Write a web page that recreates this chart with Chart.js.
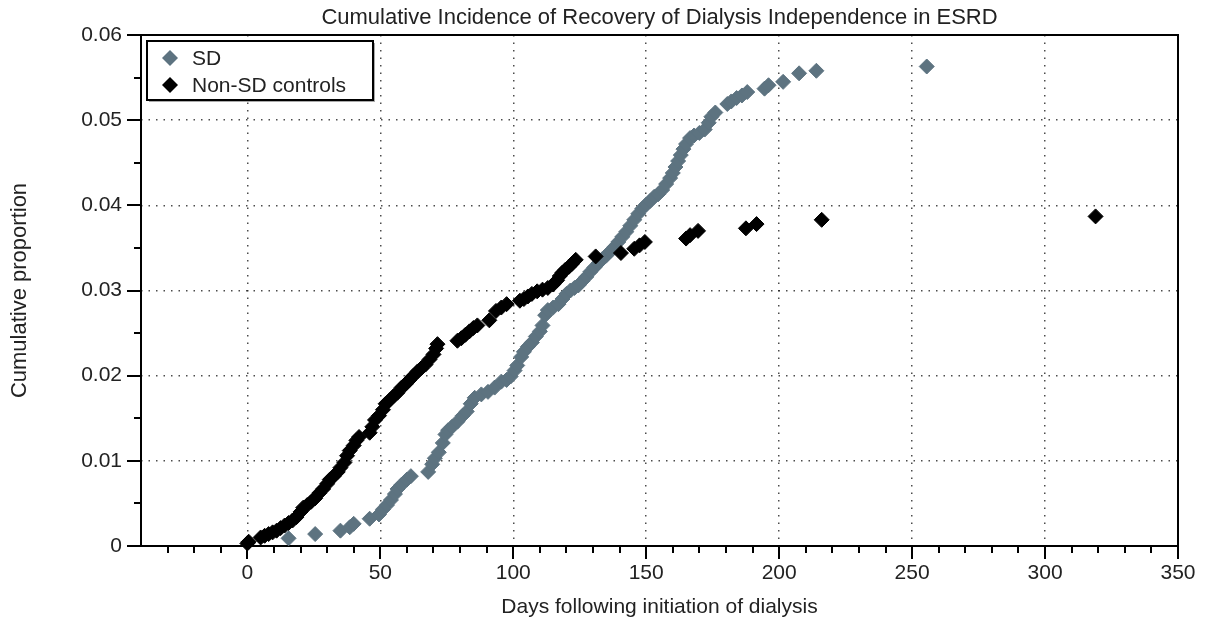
<!DOCTYPE html>
<html>
<head>
<meta charset="utf-8">
<title>Cumulative Incidence of Recovery of Dialysis Independence in ESRD</title>
<script src="https://cdn.jsdelivr.net/npm/chart.js@4.4.1/dist/chart.umd.min.js"></script>
<style>
  html, body { margin: 0; padding: 0; background: #fff; }
  #grafico { display: block; }
</style>
</head>
<body>
<canvas id="grafico" width="1205" height="624"></canvas>
<script>
// Datos
const chartTitle = 'Cumulative Incidence of Recovery of Dialysis Independence in ESRD';
const seriesLabels = ['SD', 'Non-SD controls'];

const sdDays = [15.5, 25.5, 35, 38.5, 40, 46, 49.5, 51, 52.5, 54, 55.5, 56.5, 58, 60, 61.5,
  68, 69.5, 70.5, 72, 73.5, 74.5, 75.5, 77, 79, 81, 82.5, 84, 85.5, 88, 90.5, 93, 95.5, 97.5, 99,
  100.5, 101.5, 103, 104, 105.5, 107, 108.5, 110, 111, 112, 113, 115, 117, 118.5, 120, 121.5,
  123, 124.5, 126, 127.5, 129, 130.5, 132, 133.5, 135, 136.5, 138, 139.5, 141, 142.5, 144,
  145.5, 147, 148.5, 150, 151.5, 153, 154.5, 156, 157.5, 159, 160, 161, 162, 163, 164, 165,
  166.5, 168, 170, 172, 173.5, 174.5, 176, 180.5, 182, 184, 186, 188, 194.5, 196, 201.5,
  207.5, 214, 255.5];
const sdProp = [0.0009, 0.0014, 0.0018, 0.0022, 0.0026, 0.0032, 0.0037, 0.0043, 0.0048, 0.0054,
  0.0061, 0.0067, 0.0072, 0.0078, 0.0082, 0.0087, 0.0096, 0.0103, 0.0110, 0.0121, 0.0131,
  0.0136, 0.0140, 0.0146, 0.0153, 0.0158, 0.0167, 0.0174, 0.0178, 0.0181, 0.0186, 0.0193,
  0.0195, 0.0199, 0.0206, 0.0212, 0.0222, 0.0228, 0.0234, 0.0239, 0.0246, 0.0252, 0.0259,
  0.0271, 0.0277, 0.0280, 0.0284, 0.0290, 0.0296, 0.0300, 0.0303, 0.0306, 0.0311, 0.0316,
  0.0322, 0.0327, 0.0332, 0.0337, 0.0341, 0.0346, 0.0351, 0.0357, 0.0363, 0.0369, 0.0376,
  0.0383, 0.0390, 0.0396, 0.0401, 0.0405, 0.0410, 0.0413, 0.0418, 0.0425, 0.0432, 0.0438,
  0.0445, 0.0452, 0.0459, 0.0466, 0.0472, 0.0479, 0.0482, 0.0485, 0.0489, 0.0497, 0.0504,
  0.0509, 0.0519, 0.0522, 0.0526, 0.0529, 0.0533, 0.0537, 0.0541, 0.0545, 0.0555, 0.0558,
  0.0563];

const ctrlDays = [0, 0.5, 5, 6.5, 8, 9.5, 11, 12.5, 14, 15.5, 17, 18.5, 20, 21, 22.5, 24, 25.5,
  27, 28.5, 30, 31, 32.5, 34, 35, 36.5, 37.5, 38.5, 40, 41, 42, 46, 47, 48, 49.5, 51, 52, 53.5,
  55, 56.5, 58, 59.5, 61, 62.5, 64, 65.5, 67, 68.5, 70, 71, 71.5, 79, 80.5, 82, 83.5, 85, 86.5,
  91, 93.5, 95.5, 97.5, 102.5, 104, 105.5, 107, 109, 111, 113, 115, 116.5, 117.5, 118.5, 119.5,
  121, 122, 123.5, 131, 140.5, 145.5, 147.5, 149.5, 165, 166.5, 169.5, 187.5, 191.5, 216, 319];
const ctrlProp = [0.0003, 0.0005, 0.0010, 0.0012, 0.0014, 0.0016, 0.0018, 0.0021, 0.0024,
  0.0027, 0.0030, 0.0034, 0.0040, 0.0045, 0.0048, 0.0052, 0.0056, 0.0062, 0.0067, 0.0073,
  0.0078, 0.0082, 0.0087, 0.0092, 0.0098, 0.0106, 0.0112, 0.0118, 0.0124, 0.0128, 0.0133,
  0.0140, 0.0148, 0.0153, 0.0160, 0.0167, 0.0171, 0.0176, 0.0180, 0.0186, 0.0190, 0.0195,
  0.0200, 0.0205, 0.0209, 0.0213, 0.0219, 0.0225, 0.0232, 0.0237, 0.0241, 0.0244, 0.0248,
  0.0252, 0.0256, 0.0259, 0.0265, 0.0276, 0.0280, 0.0284, 0.0288, 0.0290, 0.0293, 0.0296,
  0.0299, 0.0301, 0.0303, 0.0307, 0.0312, 0.0317, 0.0321, 0.0324, 0.0328, 0.0331, 0.0336,
  0.0340, 0.0344, 0.0349, 0.0353, 0.0357, 0.0361, 0.0365, 0.0370, 0.0373, 0.0378, 0.0383,
  0.0387];

const xTicks = [0, 50, 100, 150, 200, 250, 300, 350];
const yTicks = [0, 0.01, 0.02, 0.03, 0.04, 0.05, 0.06];

const FUENTE = "'Liberation Sans', Arial, Helvetica, sans-serif";
const TEXTO = '#222';
const COLOR_SD = '#5d7380';
const COLOR_CTRL = '#000';
const PUNTOS = 'rgba(0,0,0,0.7)';

const aPuntos = (xs, ys) => xs.map((x, i) => ({ x: x, y: ys[i] }));

// Marco con marcas mayores y menores hacia afuera
const marcoPlugin = {
    id: 'marco',
    beforeDatasetsDraw(chart) {
        const { ctx, chartArea: a, scales: { x, y } } = chart;
        ctx.save();
        ctx.strokeStyle = '#000';
        ctx.lineWidth = 2;
        ctx.strokeRect(a.left, a.top, a.right - a.left, a.bottom - a.top);
        ctx.beginPath();
        for (let d = -30; d <= 350; d += 10) {
            const px = Math.round(x.getPixelForValue(d));
            const largo = d % 50 === 0 ? 13 : 7;
            ctx.moveTo(px, a.bottom);
            ctx.lineTo(px, a.bottom + largo);
        }
        for (let k = 0; k <= 12; k++) {
            const py = Math.round(y.getPixelForValue(k * 0.005));
            const largo = k % 2 === 0 ? 14 : 7;
            ctx.moveTo(a.left, py);
            ctx.lineTo(a.left - largo, py);
        }
        ctx.stroke();
        ctx.restore();
    },
    // titulo centrado sobre el area del grafico
    afterDraw(chart) {
        const { ctx, chartArea: a } = chart;
        ctx.save();
        ctx.fillStyle = TEXTO;
        ctx.font = '22px ' + FUENTE;
        ctx.textAlign = 'center';
        ctx.textBaseline = 'middle';
        ctx.fillText(chartTitle, (a.left + a.right) / 2, 18);
        ctx.restore();
    }
};

// Leyenda con recuadro dentro del area
const leyendaPlugin = {
    id: 'leyenda',
    afterDraw(chart) {
        const { ctx, chartArea: a } = chart;
        const bx = a.left + 6, by = a.top + 6, bw = 226, bh = 59;
        ctx.save();
        ctx.fillStyle = '#aaa';
        ctx.fillRect(bx + 2, by + 2, bw, bh);
        ctx.fillStyle = '#fff';
        ctx.fillRect(bx, by, bw, bh);
        ctx.strokeStyle = '#000';
        ctx.lineWidth = 2;
        ctx.strokeRect(bx, by, bw, bh);
        chart.data.datasets.forEach((ds, i) => {
            const cx = bx + 23, cy = by + 17 + i * 27;
            ctx.fillStyle = ds.backgroundColor;
            ctx.beginPath();
            ctx.moveTo(cx, cy - 8);
            ctx.lineTo(cx + 8, cy);
            ctx.lineTo(cx, cy + 8);
            ctx.lineTo(cx - 8, cy);
            ctx.closePath();
            ctx.fill();
            ctx.fillStyle = TEXTO;
            ctx.font = '21px ' + FUENTE;
            ctx.textBaseline = 'middle';
            ctx.textAlign = 'left';
            ctx.fillText(ds.label, bx + 45, cy + 1);
        });
        ctx.restore();
    }
};

new Chart(document.getElementById('grafico'), {
    type: 'scatter',
    data: {
        datasets: [
            { label: seriesLabels[0], data: aPuntos(sdDays, sdProp), backgroundColor: COLOR_SD, borderColor: COLOR_SD,
              pointStyle: 'rectRot', pointRadius: 7.5, pointBorderWidth: 1, order: 1, clip: false },
            { label: seriesLabels[1], data: aPuntos(ctrlDays, ctrlProp), backgroundColor: COLOR_CTRL, borderColor: COLOR_CTRL,
              pointStyle: 'rectRot', pointRadius: 7.5, pointBorderWidth: 1, order: 0, clip: false }
        ]
    },
    options: {
        responsive: false,
        animation: false,
        devicePixelRatio: 1,
        layout: { padding: { left: 0, right: 27, top: 35, bottom: 0 } },
        plugins: {
            legend: { display: false },
            tooltip: { enabled: false },
            title: { display: false }
        },
        scales: {
            x: {
                type: 'linear', min: -40, max: 350,
                afterBuildTicks: s => { s.ticks = xTicks.map(v => ({ value: v })); },
                afterFit: s => { s.height = 78; s.paddingLeft = 0; s.paddingRight = 0; },
                ticks: { padding: 15, color: TEXTO, font: { size: 21, family: FUENTE }, maxRotation: 0, callback: v => String(v) },
                grid: { drawTicks: false, lineWidth: 1.5,
                        color: c => (c.tick && c.tick.value >= 0 && c.tick.value <= 300) ? PUNTOS : 'rgba(0,0,0,0)' },
                border: { display: false, dash: [1.5, 6] },
                title: { display: true, text: 'Days following initiation of dialysis', color: TEXTO,
                         font: { size: 21, family: FUENTE }, padding: { top: 0, bottom: 4 } }
            },
            y: {
                type: 'linear', min: 0, max: 0.06,
                afterBuildTicks: s => { s.ticks = yTicks.map(v => ({ value: v })); },
                afterFit: s => { s.width = 141; s.paddingTop = 0; s.paddingBottom = 0; },
                ticks: { padding: 19, color: TEXTO, font: { size: 21, family: FUENTE }, callback: v => v === 0 ? '0' : v.toFixed(2) },
                grid: { drawTicks: false, lineWidth: 1.5,
                        color: c => (c.tick && c.tick.value > 0.001 && c.tick.value < 0.059) ? PUNTOS : 'rgba(0,0,0,0)' },
                border: { display: false, dash: [1.5, 6] },
                title: { display: true, text: 'Cumulative proportion', color: TEXTO,
                         font: { size: 22, family: FUENTE }, padding: { top: 7, bottom: 0 } }
            }
        }
    },
    plugins: [marcoPlugin, leyendaPlugin]
});
</script>
</body>
</html>
